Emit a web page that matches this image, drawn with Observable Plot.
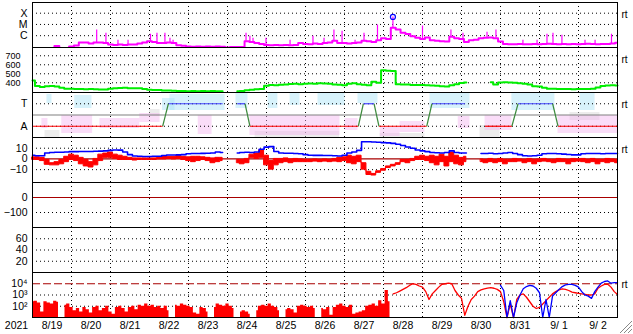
<!DOCTYPE html>
<html><head><meta charset="utf-8">
<script src="https://cdn.jsdelivr.net/npm/d3@7"></script>
<script src="https://cdn.jsdelivr.net/npm/@observablehq/plot@0.6"></script>
<style>
html,body{margin:0;padding:0;background:#fff;}
#chart{position:relative;width:633px;height:334px;overflow:hidden;background:#fff;}
#chart svg{position:absolute;left:0;}
</style></head><body><div id="chart"></div>
<script>
// ---------- time axis (hours from 2021-08-19 00:00 UT) ----------
const year = "2021";
const dayBounds = [24,48,72,96,120,144,168,192,216,240,264,288,312,336];
const dayMid = [12,36,60,84,108,132,156,180,204,228,252,276,300,324,348];
const dayLabels = ["8/19","8/20","8/21","8/22","8/23","8/24","8/25","8/26","8/27","8/28","8/29","8/30","8/31","9/ 1","9/ 2"];

// ---------- panel 1 : X-ray flux (log10 W/m2), 3-hour samples ----------
const xrayTicks = [-6, -5, -4];
const xrayTickLabels = ["C", "M", "X"];
const xrayLog = [
 -7.1,-7.1,-7.1,-7.1,-7.1,-6.92,-7.1,-7.1,
 -6.96,-6.87,-6.6,-6.6,-6.7,-6.6,-6.6,-6.64,
 -6.78,-6.82,-6.78,-6.82,-6.78,-6.78,-6.7,-6.6,
 -6.5,-6.55,-6.64,-6.66,-6.6,-6.66,-6.85,-6.89,
 -6.96,-6.98,-6.96,-6.98,-6.96,-6.98,-6.96,-6.98,
 -7.05,-7.0,-7.0,-7.0,-6.5,-6.55,-6.66,-6.74,
 -6.82,-6.85,-6.82,-6.85,-6.82,-6.85,-6.82,-6.66,
 -6.74,-6.77,-6.7,-6.74,-6.64,-6.6,-6.46,-6.64,
 -6.66,-6.7,-6.66,-6.6,-6.46,-6.5,-6.55,-6.4,
 -6.22,-6.3,-5.3,-5.46,-5.74,-5.85,-6.05,-6.19,
 -6.3,-6.15,-6.4,-6.46,-6.5,-6.52,-6.1,-6.22,
 -6.3,-6.55,-6.4,-6.35,-6.22,-6.19,-6.15,-6.22,
 -6.52,-6.74,-6.77,-6.76,-6.74,-6.77,-6.75,-6.73,
 -6.76,-6.74,-6.72,-6.74,-6.76,-6.73,-6.75,-6.74,
 -6.77,-6.74,-6.72,-6.74,-6.76,-6.74,-6.73,-6.7,
 -6.62];
const xraySpikeT = [39.5,45.2,52.6,58.8,72.6,76.6,81.5,84.6,86.5,131.4,133.8,135.7,143.7,158.5,172.6,179.4,185.5,190.5,198.5,204,212.3,221.8,240,257.5,264.9,279.7,285.2,301.8,310.5,316.6,320.3,325.8,340,346.2,356.3];
const xraySpikeV = [-5.5,-5.78,-6.41,-6.41,-5.87,-5.78,-5.78,-6.23,-6.41,-5.78,-6.05,-6.23,-6.23,-6.41,-6.05,-6.23,-5.5,-5.6,-6.41,-5.78,-5.05,-4.33,-5.14,-5.5,-5.78,-5.69,-5.5,-6.41,-6.41,-5.87,-5.78,-5.96,-6.41,-6.41,-5.87];
const flareT = [221.8];
const flareV = [-4.33];

// ---------- panel 2 : solar wind speed (km/s), 3-hour samples ----------
const speedTicks = [400, 500, 600, 700];
const speed = [
 425,365,352,362,364,358,345,333,
 333,330,330,328,330,327,325,325,
 334,338,342,345,340,340,338,330,
 322,320,320,315,313,312,308,308,
 307,308,306,308,306,308,306,306,
 null,null,306,308,318,322,328,332,
 368,375,372,378,380,386,388,385,
 390,392,390,394,392,388,380,378,
 372,390,395,385,378,372,412,400,
 540,535,530,385,382,380,376,374,
 374,372,370,368,362,360,372,385,
 398,403,null,null,null,null,405,380,
 403,405,402,400,395,388,380,362,
 358,345,335,333,332,330,330,328,
 330,330,332,335,348,365,370,372,
 370];

// ---------- panel 3 : IMF sector (T / A) ----------
const sectorTicks = [90, 270];
const sectorTickLabels = ["T", "A"];
const sectorPhi = {T: 90, A: 270};
const secT = [0,80.1,83.6,117,null,126,130.8,133.8,200.5,203.6,210.2,213.2,242.6,245.8,266.2,null,278.5,295,298.8,320.1,323.4,360];
const secS = ["A","A","T","T",null,"T","T","A","A","T","T","A","A","T","T",null,"A","A","T","T","A","A"];
// scattered angle clouds: [kind, t1, t2, phi1, phi2]
const phiClouds = [
 ["A",5.8,9.5,208,288],["G",7.7,16.9,304,360],["T",8.9,12,16,88],
 ["A",18,37,184,328],["T",26,36.6,24,128],["A",41.5,66,208,288],
 ["A",66,78.5,168,240],["G",72,78.5,136,192],["T",80,87.7,48,144],
 ["T",84.6,118.5,16,144],["A",102,110.5,184,336],["T",125.2,132.6,8,128],
 ["A",133.8,189.2,184,344],["T",145,151,8,128],["T",158.5,164.6,8,104],
 ["T",175.7,192.3,8,104],["G",137,189,312,360],["A",192.3,200.3,208,304],
 ["T",200.3,212.6,8,88],["A",214,226.2,280,352],["A",226.2,241.5,232,320],
 ["G",214,241.5,328,360],["T",244.6,269.2,8,128],["A",262,269.2,192,288],
 ["G",275.4,287.7,264,360],["A",278.5,295,184,304],["T",295,321.5,8,144],
 ["A",323.4,360,184,328],["T",337,346.2,8,144],["G",330.8,349.2,160,224]
];

// ---------- panel 4 : IMF Bt (blue) and Bz range (red), nT, 3-hour samples ----------
const bTicks = [-10, 0, 10];
const bt = [
 3.5,3.0,3.0,5.5,6.0,6.2,6.2,6.5,
 6.8,6.8,7.0,7.0,7.0,7.2,7.3,7.5,
 8.0,8.4,8.2,6.5,4.0,2.8,2.5,2.3,
 2.3,2.5,2.5,3.2,3.7,3.7,3.8,4.0,
 4.8,5.0,5.1,5.2,5.3,5.5,6.5,6.0,
 null,null,5.5,6.0,6.2,6.0,6.5,9.0,
 11.0,11.5,7.0,5.5,5.3,5.3,5.0,4.8,
 4.0,3.5,3.3,3.3,3.2,3.2,3.0,2.8,
 3.5,5.5,6.5,8.0,16.0,16.0,15.8,15.5,
 15.2,15.0,14.5,13.7,12.5,11.2,10.0,8.4,
 7.5,6.8,6.0,5.8,5.5,6.0,7.5,6.0,
 5.5,5.5,null,null,5.0,5.0,5.3,4.8,
 5.0,5.5,6.0,5.0,4.0,3.0,2.8,3.0,
 3.5,4.8,5.0,5.0,4.8,4.5,4.2,3.8,
 3.8,4.8,5.0,5.0,5.0,4.8,5.0,5.0,
 5.0];
const bzLo = [
 -1,-1,-2,-5.5,-6,-6,-5,-3,
 -1,-2,-5,-7,-8,-6,-2,1,
 1,0,-1,-1,-1,-1.5,-1,-1,
 -1,-1,-0.5,-0.5,0,-0.5,0,-1,
 -2,-3,-2,-1,-2,-4,-3,-2,
 null,null,-4,-5,-4,1,0,1,
 -6,-10,-6,-4,-3,-4,-3,-3,
 -3,-3,-2.5,-3,-2.5,-3,-2.5,-3,
 -2,-4,-5,-3,-10,-15,-15.5,-13,
 -11,-8.5,-7,-5.5,-3,-4,-2,-1,
 -1,-2,-4,-6,-3,-7,-3,-5,
 -6,-3,null,null,-3,-4,-3,-4,
 -3,-5,-3,-3,-2.5,-4,-3,-5,
 -3,-2.5,-3,-4,-3,-3,-5,-3,
 -2.5,-3,-4,-3,-5,-3,-4,-3,
 -4];
const bzHi = [
 1.5,1.5,1,-1,-4,-3,-1,2,
 4,3,1,-1,-3,0,4,5,
 6,4,3,2,1,0.5,0.5,0.5,
 0.5,0.5,1,2.5,2,2,3,2,
 1.5,2,2,1.5,1,0.5,1,1,
 null,null,-1,-1,0,4,5,8,
 3,-2,0,0,0.5,-0.5,0,-0.5,
 -1,-1,-0.5,-1,-0.5,-1,0,1,
 1.5,3,2,3,-4,-12,-14,-11.5,
 -9.5,-7,-5.5,-4,-1,-1,0,2,
 3,2,3,2,4,2,6,3,
 1,2,null,null,-0.5,-1,0,-1,
 0,-1,-1,0,-0.5,-1,0,-1,
 -0.5,0,-1,-1,0,-0.5,-1,0,
 -0.5,0,-1,0,-1,-1,0,-0.5,
 -1];

// ---------- panel 5 / 6 : empty panels ----------
const dstTicks = [-100, 0];
const p6Ticks = [20, 40, 60];

// ---------- panel 7 : electron flux (log10), 2-hour samples ----------
const eTicks = [2, 3, 4];
const eTickLabels = ["10²", "10³", "10⁴"];
const eRedFill = [
 2.4,2.45,2.3,1.5,2.4,2.3,2.2,2.45,
 2.35,null,2.1,2.2,1.9,1.6,1.8,1.5,
 1.9,1.7,1.4,1.9,2.0,1.6,1.8,2.0,
 1.5,1.3,1.9,2.0,1.8,1.5,1.9,2.0,
 1.7,2.1,2.0,2.2,2.0,2.1,1.9,2.0,
 1.8,2.0,1.6,null,2.1,2.0,2.2,2.1,
 2.0,1.9,1.4,1.3,1.9,1.8,1.5,null,
 1.9,2.2,2.1,2.0,2.2,2.0,1.8,null,
 1.5,1.6,1.5,1.3,null,1.6,2.0,2.1,
 2.0,2.2,2.0,1.9,1.6,null,1.7,1.8,
 1.7,1.4,2.0,2.1,2.0,1.9,2.0,1.8,
 null,1.8,1.7,1.9,1.2,1.9,2.1,2.2,
 2.0,1.9,2.1,1.3,1.4,1.5,1.6,2.0,
 2.1,2.2,2.0,2.5,2.2,3.4,2.4];
const eRedLineStart = 222;
const eRedLine = [
 3.1,3.2,3.35,3.5,3.65,3.85,4.0,3.95,
 3.8,3.7,3.3,2.6,3.1,3.4,3.7,3.95,
 4.0,4.05,4.0,3.4,3.0,2.7,1.2,2.0,
 2.6,2.9,3.3,3.45,3.55,3.62,3.65,3.6,
 3.5,3.3,2.4,1.0,2.2,1.0,2.6,3.0,
 3.1,2.8,2.4,2.0,1.8,1.9,2.2,2.5,
 2.8,3.1,3.3,3.45,3.55,3.5,3.4,3.25,
 3.2,3.15,3.1,3.05,3.0,3.0,3.1,3.6,
 3.8,3.95,3.95,3.7,3.3,3.05];
const eBlueStart = 288;
const eBlue = [
 3.85,3.4,1.0,2.5,1.0,2.3,3.0,3.55,
 3.75,3.85,3.8,3.6,3.2,1.0,2.6,1.0,
 2.9,3.2,3.5,3.75,3.9,3.95,3.95,3.85,
 3.7,3.3,3.0,2.9,2.7,3.3,3.7,4.05,
 4.2,4.25,4.05,4.1,4.1];
const eThreshold = [4];

// ---------- drawing ----------
const FONT = '"Liberation Sans", Arial, Helvetica, sans-serif';
const chart = document.getElementById("chart");
const DARKRED = "#a80000";
const dots = {stroke: "black", strokeDasharray: "1,3", strokeWidth: 1};

const ser = (arr, step, start = 0) => arr.map((v, i) => ({t: start + i * step, v}));

function panel(k, yOpts, marks, opts = {}) {
  const extra = opts.extra || 0;
  const svg = Plot.plot({
    width: 633, height: 46 + extra,
    marginLeft: 32, marginRight: 16, marginTop: 0, marginBottom: 1 + extra,
    style: {background: "transparent", overflow: "visible", fontFamily: FONT, fontSize: opts.fontSize || "10.5px", color: "black"},
    x: Object.assign({domain: [0, 360], axis: null}, opts.x || {}),
    y: Object.assign({tickSize: 0, tickPadding: 5, label: null}, yOpts),
    marks: [
      Plot.ruleX(dayBounds, dots),
      ...marks,
      ...(opts.rt ? [Plot.text(["rt"], {text: d => d, frameAnchor: "top-right", dx: 4, dy: 8.5, textAnchor: "start", fontSize: 10})] : []),
      Plot.frame({stroke: "black"})
    ]
  });
  svg.style.position = "absolute";
  svg.style.top = (2 + 45 * k) + "px";
  svg.style.left = "0px";
  chart.appendChild(svg);
}

// Panel 1: X-ray
const xray = ser(xrayLog, 3);
const spikes = xraySpikeT.map((t, i) => ({t, v: xraySpikeV[i], b: xrayLog[Math.round(t / 3)]}));
panel(0, {domain: [-7.05, -3.05], ticks: xrayTicks, tickFormat: d => xrayTickLabels[xrayTicks.indexOf(d)]}, [
  Plot.ruleY(xrayTicks, dots),
  Plot.line(xray, {x: "t", y: "v", stroke: "#ff00ff", strokeWidth: 2, curve: "step", clip: true}),
  Plot.ruleX(spikes, {x: "t", y1: "b", y2: "v", stroke: "#ff00ff", strokeWidth: 1.2}),
  Plot.dot(flareT.map((t, i) => ({t, v: flareV[i]})), {x: "t", y: "v", r: 2.5, stroke: "#0000ff", fill: "none", strokeWidth: 1.2})
], {rt: true});

// Panel 2: speed
panel(1, {domain: [292, 792], ticks: speedTicks, tickPadding: 12}, [
  Plot.ruleY(speedTicks, dots),
  Plot.line(ser(speed, 3), {x: "t", y: "v", stroke: "#00ee00", strokeWidth: 2, curve: "step"})
], {rt: true, fontSize: "9px"});

// Panel 3: sector
const links = [];
for (let i = 0; i + 1 < secT.length; i++) {
  if (secT[i] == null || secT[i + 1] == null) continue;
  links.push({t1: secT[i], t2: secT[i + 1], s1: secS[i], s2: secS[i + 1]});
}
const clouds = phiClouds.map(([kind, t1, t2, p1, p2]) => ({kind, t1, t2, p1, p2}));
const cloudColor = {T: "#a6e3f7", A: "#f5b4ef", G: "#d4d4d4"};
panel(2, {domain: [0, 360], reverse: true, ticks: sectorTicks, tickFormat: d => sectorTickLabels[sectorTicks.indexOf(d)]}, [
  ...["G", "A", "T"].map(kind => Plot.rect(clouds.filter(c => c.kind === kind), {x1: "t1", x2: "t2", y1: "p1", y2: "p2", fill: cloudColor[kind], fillOpacity: 0.45})),
  Plot.ruleY([180], {stroke: "#808080", strokeWidth: 1.2}),
  Plot.ruleY(sectorTicks, dots),
  Plot.link(links.filter(d => d.s1 === "A" && d.s2 === "A"), {x1: "t1", x2: "t2", y1: d => sectorPhi[d.s1], y2: d => sectorPhi[d.s2], stroke: "#ff0000", strokeWidth: 1.2}),
  Plot.link(links.filter(d => d.s1 === "T" && d.s2 === "T"), {x1: "t1", x2: "t2", y1: d => sectorPhi[d.s1], y2: d => sectorPhi[d.s2], stroke: "#4040ff", strokeWidth: 1.2}),
  Plot.link(links.filter(d => d.s1 !== d.s2), {x1: "t1", x2: "t2", y1: d => sectorPhi[d.s1], y2: d => sectorPhi[d.s2], stroke: "#3d8a3d", strokeWidth: 1.2})
], {rt: true});

// Panel 4: IMF
const bz = bzLo.map((lo, i) => ({t: i * 3, lo, hi: bzHi[i]}));
panel(3, {domain: [-22, 20], ticks: bTicks}, [
  Plot.ruleY([-10, 10], dots),
  Plot.ruleY([0], {stroke: DARKRED, strokeWidth: 1.2}),
  Plot.areaY(bz, {x: "t", y1: "lo", y2: "hi", fill: "#ff0000", stroke: "#ff0000", strokeWidth: 1, curve: "step"}),
  Plot.line(ser(bt, 3), {x: "t", y: "v", stroke: "#0000ff", strokeWidth: 1.6, curve: "step"})
], {rt: true});

// Panel 5: Dst (no data)
panel(4, {domain: [-200, 100], ticks: dstTicks}, [
  Plot.ruleY([-100], dots),
  Plot.ruleY([0], {stroke: DARKRED, strokeWidth: 1.2})
]);

// Panel 6: (no data)
panel(5, {domain: [0, 80], ticks: p6Ticks}, [
  Plot.ruleY(p6Ticks, dots)
]);

// Panel 7: electrons
panel(6, {domain: [1, 5], ticks: eTicks, tickFormat: d => eTickLabels[eTicks.indexOf(d)]}, [
  Plot.ruleY([2, 3], dots),
  Plot.ruleY(eThreshold, {stroke: DARKRED, strokeWidth: 1.2, strokeDasharray: "8,3"}),
  Plot.areaY(ser(eRedFill, 2), {x: "t", y1: 1, y2: "v", fill: "#ff0000", curve: "step"}),
  Plot.line(ser(eRedLine, 2, eRedLineStart), {x: "t", y: "v", stroke: "#ff0000", strokeWidth: 1.3}),
  Plot.line(ser(eBlue, 2, eBlueStart), {x: "t", y: "v", stroke: "#0000ff", strokeWidth: 1.3}),
  Plot.text([year], {text: d => d, frameAnchor: "bottom-left", dx: -16, dy: 8.5, textAnchor: "middle", lineAnchor: "middle"})
], {rt: true, extra: 17, x: {axis: "bottom", ticks: dayMid, tickFormat: d => dayLabels[dayMid.indexOf(d)], tickSize: 0, tickPadding: 4, label: null}});

// window resize grip (decoration)
const grip = d3.select(chart).append("svg").attr("width", 14).attr("height", 14)
  .style("position", "absolute").style("left", "619px").style("top", "320px");
[[13, 1, 1, 13], [13, 5, 5, 13], [13, 9, 9, 13]].forEach(([x1, y1, x2, y2]) => {
  grip.append("line").attr("x1", x1).attr("y1", y1).attr("x2", x2).attr("y2", y2).attr("stroke", "#888");
  grip.append("line").attr("x1", x1).attr("y1", y1 + 1).attr("x2", x2 + 1).attr("y2", y2).attr("stroke", "#fff");
});
</script></body></html>
